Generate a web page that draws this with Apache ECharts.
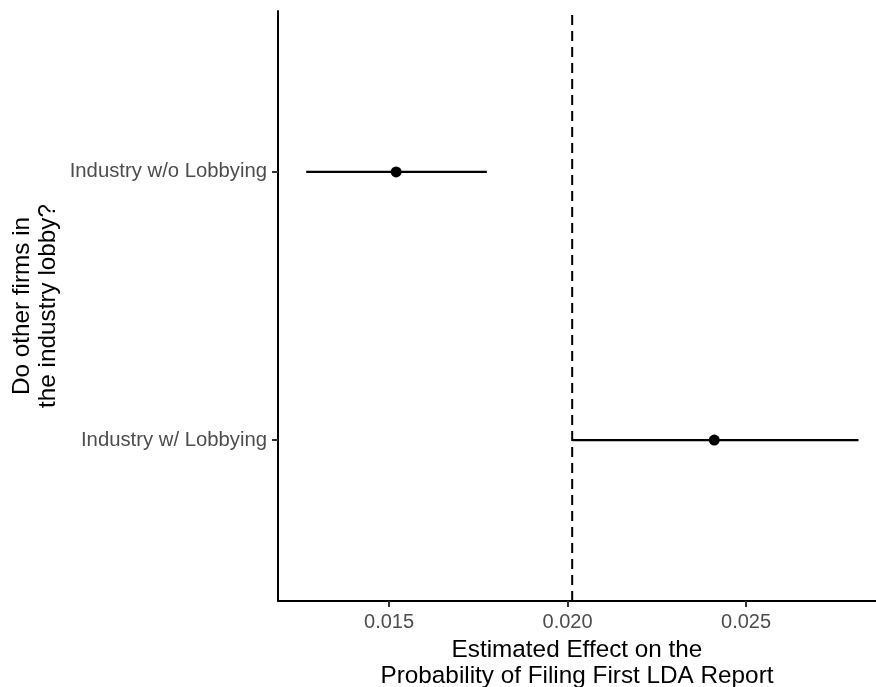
<!DOCTYPE html>
<html>
<head>
<meta charset="utf-8">
<script src="https://cdn.jsdelivr.net/npm/echarts@6/dist/echarts.min.js"></script>
<style>html,body{margin:0;padding:0;background:#fff}#c{width:876px;height:687px}</style>
</head>
<body>
<div id="c"></div>
<script>
const categories = ['Industry w/ Lobbying', 'Industry w/o Lobbying'];
const estimates = [0.02411, 0.01520];
const lowerCI = [0.02013, 0.01268];
const upperCI = [0.02815, 0.01774];
const refLine = 0.02013;
const xTicks = [0.015, 0.020, 0.025];
const xMin = 0.01189, xMax = 0.02864;
const yMin = 0.4, yMax = 2.6;
const xTitle = 'Estimated Effect on the\nProbability of Filing First LDA Report';
const yTitle = 'Do other firms in\nthe industry lobby?';

const yPos = categories.map((c, i) => i + 1);
const font = "'Liberation Sans', Arial, Helvetica, sans-serif";

const chart = echarts.init(document.getElementById('c'), null, {renderer: 'canvas'});
chart.setOption({
  animation: false,
  backgroundColor: '#ffffff',
  grid: {left: 278, right: 0, top: 11, bottom: 86, containLabel: false, outerBoundsMode: 'none'},
  xAxis: {
    type: 'value', min: xMin, max: xMax,
    splitLine: {show: false},
    axisLine: {show: true, onZero: false, lineStyle: {color: '#000', width: 2}},
    axisTick: {show: true, length: 6, lineStyle: {color: '#333', width: 2}, customValues: xTicks},
    axisLabel: {customValues: xTicks, color: '#4d4d4d', fontSize: 20, fontFamily: font, margin: 11,
      formatter: v => v.toFixed(3)},
    name: xTitle, nameLocation: 'middle', nameGap: 32,
    nameTextStyle: {color: '#000', fontSize: 24.3, fontFamily: font, lineHeight: 26}
  },
  yAxis: {
    type: 'value', min: yMin, max: yMax,
    splitLine: {show: false},
    axisLine: {show: true, onZero: false, lineStyle: {color: '#000', width: 2}},
    axisTick: {show: true, length: 6, lineStyle: {color: '#333', width: 2}, customValues: yPos},
    axisLabel: {customValues: yPos, color: '#4d4d4d', fontSize: 20.3, fontFamily: font, margin: 11,
      formatter: v => categories[Math.round(v) - 1] || ''},
    name: yTitle, nameLocation: 'middle', nameGap: 217, nameRotate: 90, nameMoveOverlap: false,
    nameTextStyle: {color: '#000', fontSize: 24.3, fontFamily: font, lineHeight: 26}
  },
  series: [
    {
      type: 'custom', silent: true,
      data: [[refLine, yMin, yMax]],
      renderItem: function (params, api) {
        const p1 = api.coord([api.value(0), api.value(1)]);
        const p2 = api.coord([api.value(0), api.value(2)]);
        return {type: 'line', shape: {x1: p1[0], y1: p1[1], x2: p2[0], y2: p2[1]},
          style: {stroke: '#000', lineWidth: 2, lineDash: [10, 6]}};
      },
      encode: {x: 0, y: [1, 2]}
    },
    {
      type: 'custom',
      data: categories.map((c, i) => [lowerCI[i], upperCI[i], yPos[i]]),
      renderItem: function (params, api) {
        const p1 = api.coord([api.value(0), api.value(2)]);
        const p2 = api.coord([api.value(1), api.value(2)]);
        return {type: 'line', shape: {x1: p1[0], y1: p1[1], x2: p2[0], y2: p2[1]},
          style: {stroke: '#000', lineWidth: 2.2}};
      },
      encode: {x: [0, 1], y: 2}
    },
    {
      type: 'scatter', symbol: 'circle', symbolSize: 11,
      itemStyle: {color: '#000', opacity: 1},
      data: categories.map((c, i) => [estimates[i], yPos[i]])
    }
  ]
});
</script>
</body>
</html>
